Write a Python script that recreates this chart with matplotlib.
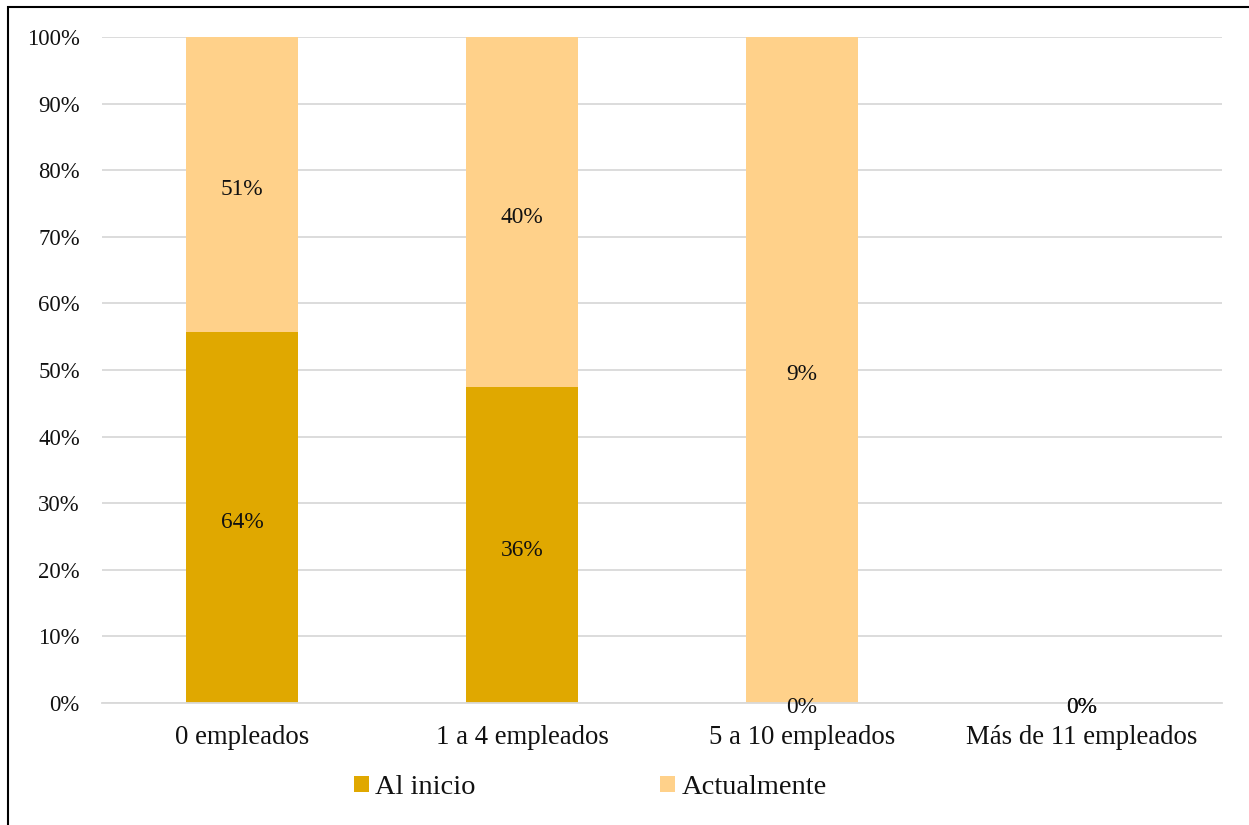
import matplotlib.pyplot as plt
import numpy as np

# Datos
categorias = ['0 empleados', '1 a 4 empleados', '5 a 10 empleados', 'Más de 11 empleados']
al_inicio = [64, 36, 0, 0]
actualmente = [51, 40, 9, 0]

plt.rcParams['font.family'] = ['Liberation Serif', 'DejaVu Serif']

col_inicio = '#E0A800'
col_actual = '#FFD18A'
col_texto = '#111111'

ini = np.array(al_inicio, dtype=float)
act = np.array(actualmente, dtype=float)
tot = ini + act
# 100% apilado
p_ini = np.where(tot > 0, ini / np.where(tot > 0, tot, 1), 0)
p_act = np.where(tot > 0, act / np.where(tot > 0, tot, 1), 0)

fig = plt.figure(figsize=(12.49, 8.25), dpi=100)
ax = fig.add_axes([0.0817, 0.1479, 0.8967, 0.8073])

x = np.arange(len(categorias))
ancho = 0.4
ax.bar(x, p_ini, ancho, color=col_inicio, label='Al inicio', zorder=2)
ax.bar(x, p_act, ancho, bottom=p_ini, color=col_actual, label='Actualmente', zorder=2)

# etiquetas de valores
for i in range(len(categorias)):
    ax.annotate(f'{al_inicio[i]}%', (x[i], p_ini[i] / 2), xytext=(0, -3.6),
                textcoords='offset points', ha='center', va='center',
                fontsize=16.8, color=col_texto, zorder=3)
    ax.annotate(f'{actualmente[i]}%', (x[i], p_ini[i] + p_act[i] / 2), xytext=(0, -3.6),
                textcoords='offset points', ha='center', va='center',
                fontsize=16.8, color=col_texto, zorder=3)

ax.set_xlim(-0.5, 3.5)
ax.set_ylim(0, 1)
ax.set_yticks(np.arange(0, 1.01, 0.1))
ax.set_yticklabels([f'{int(round(v * 100))}%' for v in np.arange(0, 1.01, 0.1)])
ax.set_xticks(x)
ax.set_xticklabels(categorias)
ax.tick_params(axis='both', length=0, colors=col_texto)
ax.tick_params(axis='y', pad=16, labelsize=16.4)
ax.tick_params(axis='x', pad=16, labelsize=19.3)
ax.grid(axis='y', color='#d9d9d9', linewidth=1.3, zorder=0)
for s in ['top', 'right', 'left']:
    ax.spines[s].set_visible(False)
ax.spines['bottom'].set_color('#d9d9d9')
ax.spines['bottom'].set_linewidth(1.3)

leg = fig.legend(loc='center', bbox_to_anchor=(0.4725, 0.0454), ncol=2, frameon=False,
                 fontsize=20.5, handlelength=0.53, handleheight=0.53, handletextpad=0.21,
                 columnspacing=6.5, labelcolor=col_texto)

# marco exterior
fig.add_artist(plt.Rectangle((8 / 1249, -0.1), 1.2, 1.1 - 7 / 825, transform=fig.transFigure,
                             fill=False, edgecolor='black', linewidth=1.5))

fig.savefig('out.png', dpi=100)
